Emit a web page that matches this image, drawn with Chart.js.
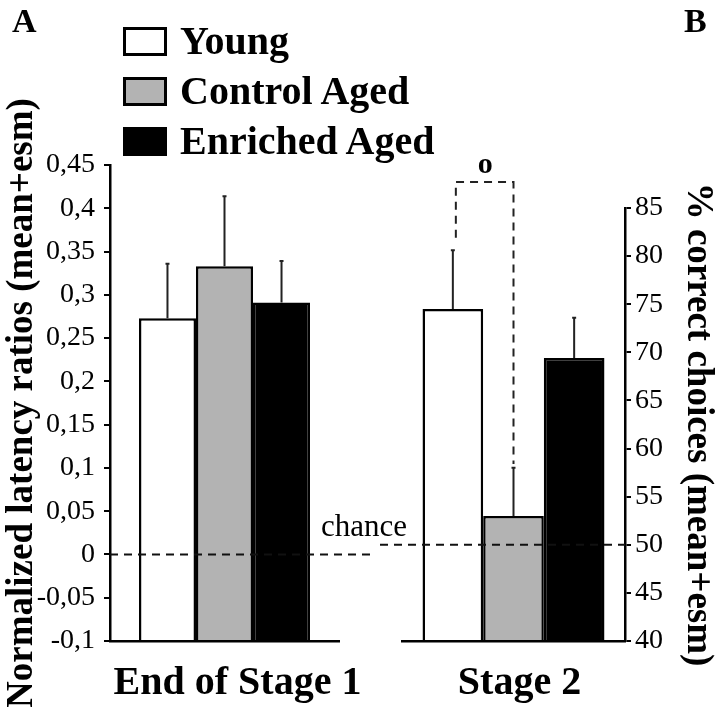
<!DOCTYPE html>
<html>
<head>
<meta charset="utf-8">
<script src="https://cdn.jsdelivr.net/npm/chart.js@4.4.1/dist/chart.umd.min.js"></script>
<style>
  html, body { margin: 0; padding: 0; background: #fff; }
  #wrap { position: relative; width: 720px; height: 707px; overflow: hidden; }
  canvas { position: absolute; top: 0; }
  #chartA { left: 0; }
  #chartB { left: 380px; }
  .panel { position: absolute; top: 2px; font: bold 34px 'Liberation Serif', serif; color: #000; }
  #legend { position: absolute; left: 123px; top: 16px; font: bold 40px 'Liberation Serif', serif; line-height: 1; color: #000; }
  .row { display: flex; align-items: center; height: 50px; white-space: nowrap; }
  .box { width: 44px; height: 29px; border: 3px solid #000; box-sizing: border-box; margin-right: 13px; }
</style>
</head>
<body>
<div id="wrap">
  <canvas id="chartA" width="420" height="707"></canvas>
  <canvas id="chartB" width="340" height="707"></canvas>
  <div class="panel" style="left:12px">A</div>
  <div class="panel" style="left:684px">B</div>
  <div id="legend"></div>
</div>
<script>
// groups
const groups = ['Young', 'Control Aged', 'Enriched Aged'];
const fills = ['#ffffff', '#b3b3b3', '#000000'];

// panel A: normalized latency ratios
const stage1Label = ['End of Stage 1'];
const stage1Mean = [0.273, 0.333, 0.291];
const stage1Err = [0.063, 0.081, 0.048];
const stage1Min = -0.1, stage1Max = 0.45, stage1Step = 0.05;

// panel B: % correct choices
const stage2Label = ['Stage 2'];
const stage2Mean = [74.5, 53.0, 69.4];
const stage2Err = [6.1, 5.0, 4.2];
const stage2Min = 40, stage2Max = 85, stage2Step = 5;

const chance1 = 0;
const chance2 = 50;
// significance bracket Young vs Control Aged (in % units)
const bracketTop = 87.7;
const bracketLeftEnd = 81.9;
const bracketRightEnd = 58.4;
const bracketMark = 89.4;

Chart.defaults.animation = false;
Chart.defaults.font.family = "'Liberation Serif', serif";
Chart.defaults.color = '#000';

const serif = "'Liberation Serif', serif";

function makeDatasets(means, errs, base, catPct) {
  return groups.map((g, i) => ({
    label: g,
    data: [means[i]],
    errors: [errs[i]],
    base: base,
    backgroundColor: fills[i],
    borderColor: '#000',
    borderWidth: 2.5,
    barPercentage: 1.0,
    categoryPercentage: catPct
  }));
}

function fmtComma(v) {
  return Number(v.toFixed(2)).toString().replace('.', ',');
}

// error bars drawn from each bar top
const errorBars = {
  id: 'errorBars',
  afterDatasetsDraw(chart) {
    const ctx = chart.ctx;
    const y = chart.scales.y;
    ctx.save();
    ctx.strokeStyle = '#222';
    ctx.lineWidth = 2;
    chart.data.datasets.forEach((ds, i) => {
      chart.getDatasetMeta(i).data.forEach((bar, j) => {
        const top = y.getPixelForValue(ds.data[j] + ds.errors[j]);
        ctx.beginPath();
        ctx.moveTo(bar.x, bar.y);
        ctx.lineTo(bar.x, top);
        ctx.moveTo(bar.x - 2, top);
        ctx.lineTo(bar.x + 2, top);
        ctx.stroke();
      });
    });
    ctx.restore();
  }
};

// dashed chance level
const chanceLine = {
  id: 'chanceLine',
  afterDatasetsDraw(chart, args, opts) {
    const ctx = chart.ctx;
    const area = chart.chartArea;
    const yy = chart.scales.y.getPixelForValue(opts.value);
    ctx.save();
    ctx.strokeStyle = '#111';
    ctx.lineWidth = 2;
    ctx.setLineDash([8, 6]);
    ctx.beginPath();
    ctx.moveTo(area.left - (opts.extendLeft || 0), yy);
    ctx.lineTo(area.right + (opts.extendRight || 0), yy);
    ctx.stroke();
    if (opts.text) {
      ctx.setLineDash([]);
      ctx.font = '31px ' + serif;
      ctx.fillStyle = '#000';
      ctx.textAlign = 'center';
      ctx.textBaseline = 'alphabetic';
      ctx.fillText(opts.text, area.right + 25, yy - 18);
    }
    ctx.restore();
  }
};

// dashed bracket between Young and Control Aged in stage 2
const sigBracket = {
  id: 'sigBracket',
  afterDraw(chart) {
    const ctx = chart.ctx;
    const y = chart.scales.y;
    const a = chart.getDatasetMeta(0).data[0];
    const b = chart.getDatasetMeta(1).data[0];
    const yTop = y.getPixelForValue(bracketTop);
    ctx.save();
    ctx.strokeStyle = '#222';
    ctx.lineWidth = 2;
    ctx.setLineDash([8, 6]);
    ctx.beginPath();
    ctx.moveTo(a.x + 3, y.getPixelForValue(bracketLeftEnd));
    ctx.lineTo(a.x + 3, yTop);
    ctx.lineTo(b.x, yTop);
    ctx.lineTo(b.x, y.getPixelForValue(bracketRightEnd));
    ctx.stroke();
    ctx.setLineDash([]);
    ctx.font = 'bold 30px ' + serif;
    ctx.fillStyle = '#000';
    ctx.textAlign = 'center';
    ctx.textBaseline = 'middle';
    ctx.fillText('o', (a.x + b.x) / 2 + 2, y.getPixelForValue(bracketMark));
    ctx.restore();
  }
};

const xAxis = (labelShift) => ({
  grid: { display: false, drawTicks: false },
  border: { display: true, color: '#000', width: 2.5 },
  ticks: {
    font: { family: serif, size: 40, weight: 'bold' },
    color: '#000',
    padding: 19,
    labelOffset: labelShift
  },
  afterFit(scale) { scale.height = 66; }
});

const chartA = new Chart(document.getElementById('chartA'), {
  type: 'bar',
  data: { labels: stage1Label, datasets: makeDatasets(stage1Mean, stage1Err, stage1Min, 0.747) },
  options: {
    responsive: false,
    devicePixelRatio: 1,
    layout: { padding: { top: 165, right: 81, left: 0, bottom: 0 } },
    plugins: {
      legend: { display: false },
      tooltip: { enabled: false },
      chanceLine: { value: chance1, extendRight: 33, text: 'chance' }
    },
    scales: {
      x: xAxis(13),
      y: {
        min: stage1Min,
        max: stage1Max,
        grid: { drawOnChartArea: false, drawTicks: true, tickLength: 6, color: '#000', lineWidth: 2 },
        border: { display: true, color: '#000', width: 2.5 },
        ticks: {
          stepSize: stage1Step,
          autoSkip: false,
          padding: 9,
          font: { family: serif, size: 28 },
          color: '#000',
          callback: (v) => fmtComma(v)
        },
        title: {
          display: true,
          text: 'Normalized latency ratios (mean+esm)',
          font: { family: serif, size: 37, weight: 'bold' },
          color: '#000',
          padding: 0
        },
        afterFit(scale) { scale.width = 110; }
      }
    }
  },
  plugins: [errorBars, chanceLine]
});

new Chart(document.getElementById('chartB'), {
  type: 'bar',
  data: { labels: stage2Label, datasets: makeDatasets(stage2Mean, stage2Err, stage2Min, 0.816) },
  options: {
    responsive: false,
    devicePixelRatio: 1,
    layout: { padding: { top: 208, left: 22, right: 0, bottom: 0 } },
    plugins: {
      legend: { display: false },
      tooltip: { enabled: false },
      chanceLine: { value: chance2, extendLeft: 22 }
    },
    scales: {
      x: xAxis(6),
      y: {
        position: 'right',
        min: stage2Min,
        max: stage2Max,
        grid: { drawOnChartArea: false, drawTicks: true, tickLength: 6, color: '#000', lineWidth: 2 },
        border: { display: true, color: '#000', width: 2.5 },
        ticks: {
          stepSize: stage2Step,
          autoSkip: false,
          padding: 4,
          font: { family: serif, size: 28 },
          color: '#000'
        },
        title: {
          display: true,
          text: '% correct choices (mean+esm)',
          font: { family: serif, size: 37, weight: 'bold' },
          color: '#000',
          padding: 0
        },
        afterFit(scale) { scale.width = 95; }
      }
    }
  },
  plugins: [errorBars, chanceLine, sigBracket]
});

// html legend built from the chart datasets
const legendEl = document.getElementById('legend');
chartA.data.datasets.forEach(ds => {
  const row = document.createElement('div');
  row.className = 'row';
  const box = document.createElement('span');
  box.className = 'box';
  box.style.background = ds.backgroundColor;
  const txt = document.createElement('span');
  txt.textContent = ds.label;
  row.appendChild(box);
  row.appendChild(txt);
  legendEl.appendChild(row);
});
</script>
</body>
</html>
